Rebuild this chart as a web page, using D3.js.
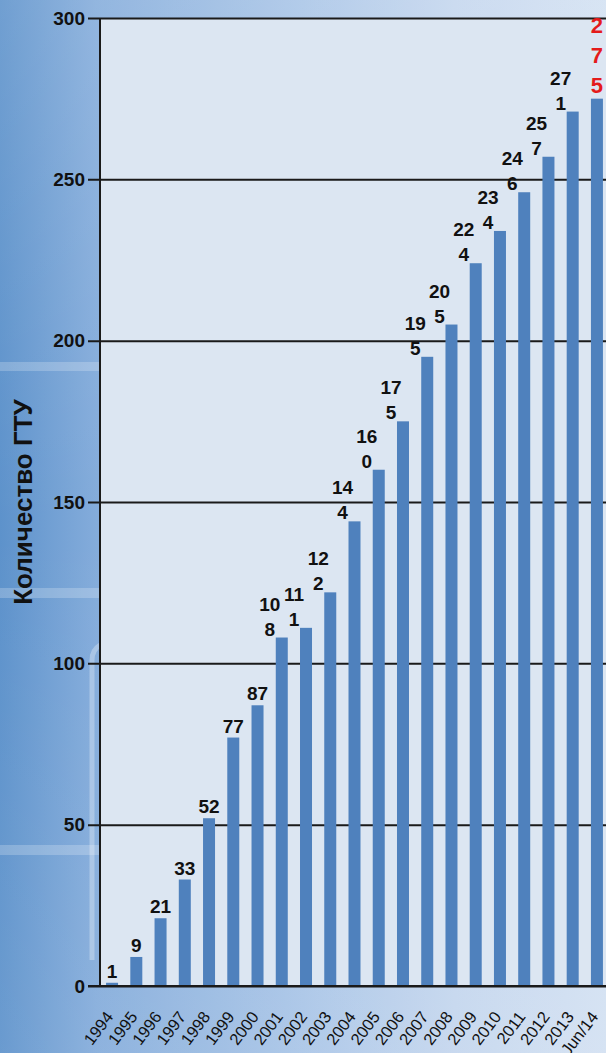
<!DOCTYPE html>
<html><head><meta charset="utf-8">
<script src="https://cdn.jsdelivr.net/npm/d3@7"></script>
<style>
html,body{margin:0;padding:0;width:606px;height:1053px;overflow:hidden;}
svg{display:block;font-family:"Liberation Sans",Arial,sans-serif;}
</style></head>
<body>
<svg id="chart" width="606" height="1053"></svg>
<script>
const categories = ["1994","1995","1996","1997","1998","1999","2000","2001","2002","2003","2004","2005","2006","2007","2008","2009","2010","2011","2012","2013","Jun/14"];
const values = [1,9,21,33,52,77,87,108,111,122,144,160,175,195,205,224,234,246,257,271,275];
const yTicks = [0,50,100,150,200,250,300];
const yTitle = "Количество ГТУ";

const svg = d3.select("#chart");
const W = 606, H = 1053;
const plot = {left:100, right:609, top:18, bottom:986};

// background
const defs = svg.append("defs");
const g1 = defs.append("linearGradient").attr("id","bg").attr("x1","0").attr("x2","1").attr("y1","0").attr("y2","0");
[[0,"#5d92cb"],[0.16,"#84acdb"],[0.5,"#a9c5e7"],[0.75,"#c4d6ee"],[1,"#d3e1f2"]].forEach(([o,c])=>g1.append("stop").attr("offset",o).attr("stop-color",c));
svg.append("rect").attr("width",W).attr("height",H).attr("fill","url(#bg)");
const g2 = defs.append("linearGradient").attr("id","bg2").attr("x1","0").attr("x2","0").attr("y1","0").attr("y2","1");
g2.append("stop").attr("offset",0).attr("stop-color","#ffffff").attr("stop-opacity",0.12);
g2.append("stop").attr("offset",0.5).attr("stop-color","#ffffff").attr("stop-opacity",0);
g2.append("stop").attr("offset",1).attr("stop-color","#ffffff").attr("stop-opacity",0.08);
svg.append("rect").attr("width",W).attr("height",H).attr("fill","url(#bg2)");
// decorative light bands
[[362,9],[588,10],[845,10]].forEach(([y,h])=>svg.append("rect").attr("x",0).attr("y",y).attr("width",100).attr("height",h).attr("fill","#ffffff").attr("opacity",0.22));
svg.append("path").attr("d","M92,960 L92,660 Q92,650 100,645").attr("fill","none").attr("stroke","#ffffff").attr("stroke-opacity",0.3).attr("stroke-width",5);

const x = d3.scaleBand().domain(categories).range([plot.left, plot.right]).paddingInner(0.505).paddingOuter(0.25);
const y = d3.scaleLinear().domain([0,300]).range([plot.bottom, plot.top]);

// plot area
svg.append("rect").attr("x",plot.left).attr("y",plot.top).attr("width",W-plot.left).attr("height",plot.bottom-plot.top).attr("fill","#dce6f2");

// gridlines + y axis
const yAxis = d3.axisLeft(y).tickValues(yTicks).tickSize(-(W-plot.left)).tickPadding(15).tickSizeOuter(0);
const ya = svg.append("g").attr("transform",`translate(${plot.left},0)`).call(yAxis);
ya.select(".domain").remove();
ya.selectAll(".tick line").attr("stroke","#1a1a1a").attr("stroke-width",2).attr("x1",-12);
ya.selectAll(".tick text").attr("fill","#111").attr("font-size",19).attr("font-weight","bold").attr("x",-15).attr("font-family","'Liberation Sans',Arial,sans-serif");

// bars
svg.append("g").selectAll("rect").data(values).join("rect")
  .attr("x",(d,i)=>x(categories[i])).attr("width",x.bandwidth())
  .attr("y",d=>y(d)).attr("height",d=>y(0)-y(d)).attr("fill","#4f81bd");

// axes lines
svg.append("line").attr("x1",plot.left).attr("x2",plot.left).attr("y1",plot.top).attr("y2",plot.bottom+1).attr("stroke","#1a1a1a").attr("stroke-width",2);
svg.append("line").attr("x1",plot.left-12).attr("x2",W).attr("y1",plot.bottom).attr("y2",plot.bottom).attr("stroke","#1a1a1a").attr("stroke-width",2);

// x labels
const xAxis = d3.axisBottom(x).tickSize(0).tickPadding(0);
const xa = svg.append("g").attr("transform",`translate(0,${plot.bottom})`).call(xAxis);
xa.select(".domain").remove();
xa.selectAll(".tick text").attr("font-size",16.5).attr("fill","#111").attr("font-family","'Liberation Sans',Arial,sans-serif")
  .attr("text-anchor","end").attr("dy",0).attr("y",0)
  .attr("transform","translate(2,31) rotate(-53)");

// value labels
const lbl = svg.append("g").attr("font-weight","bold");
values.forEach((v,i)=>{
  const cx = x(categories[i]) + x.bandwidth()/2;
  const top = y(v);
  const s = String(v);
  if (i === values.length-1) {
    const digits = s.split("");
    digits.forEach((dg,k)=>{
      lbl.append("text").attr("x",cx).attr("y",top-6-(digits.length-1-k)*30)
        .attr("text-anchor","middle").attr("font-size",22).attr("fill","#e41b1b").text(dg);
    });
  } else if (s.length < 3) {
    lbl.append("text").attr("x",cx).attr("y",top-5).attr("text-anchor","middle").attr("font-size",19).attr("fill","#111").text(s);
  } else {
    const lines=[s.slice(0,2), s.slice(2)];
    lines.forEach((t,k)=>{
      lbl.append("text").attr("x",cx-12).attr("y",top-2-(1-k)*25).attr("text-anchor","middle").attr("font-size",19).attr("fill","#111").text(t);
    });
  }
});

// y title
svg.append("text").attr("transform","translate(32,502) rotate(-90)").attr("text-anchor","middle")
  .attr("font-size",26).attr("font-weight","bold").attr("fill","#111").text(yTitle);
</script>
</body></html>
